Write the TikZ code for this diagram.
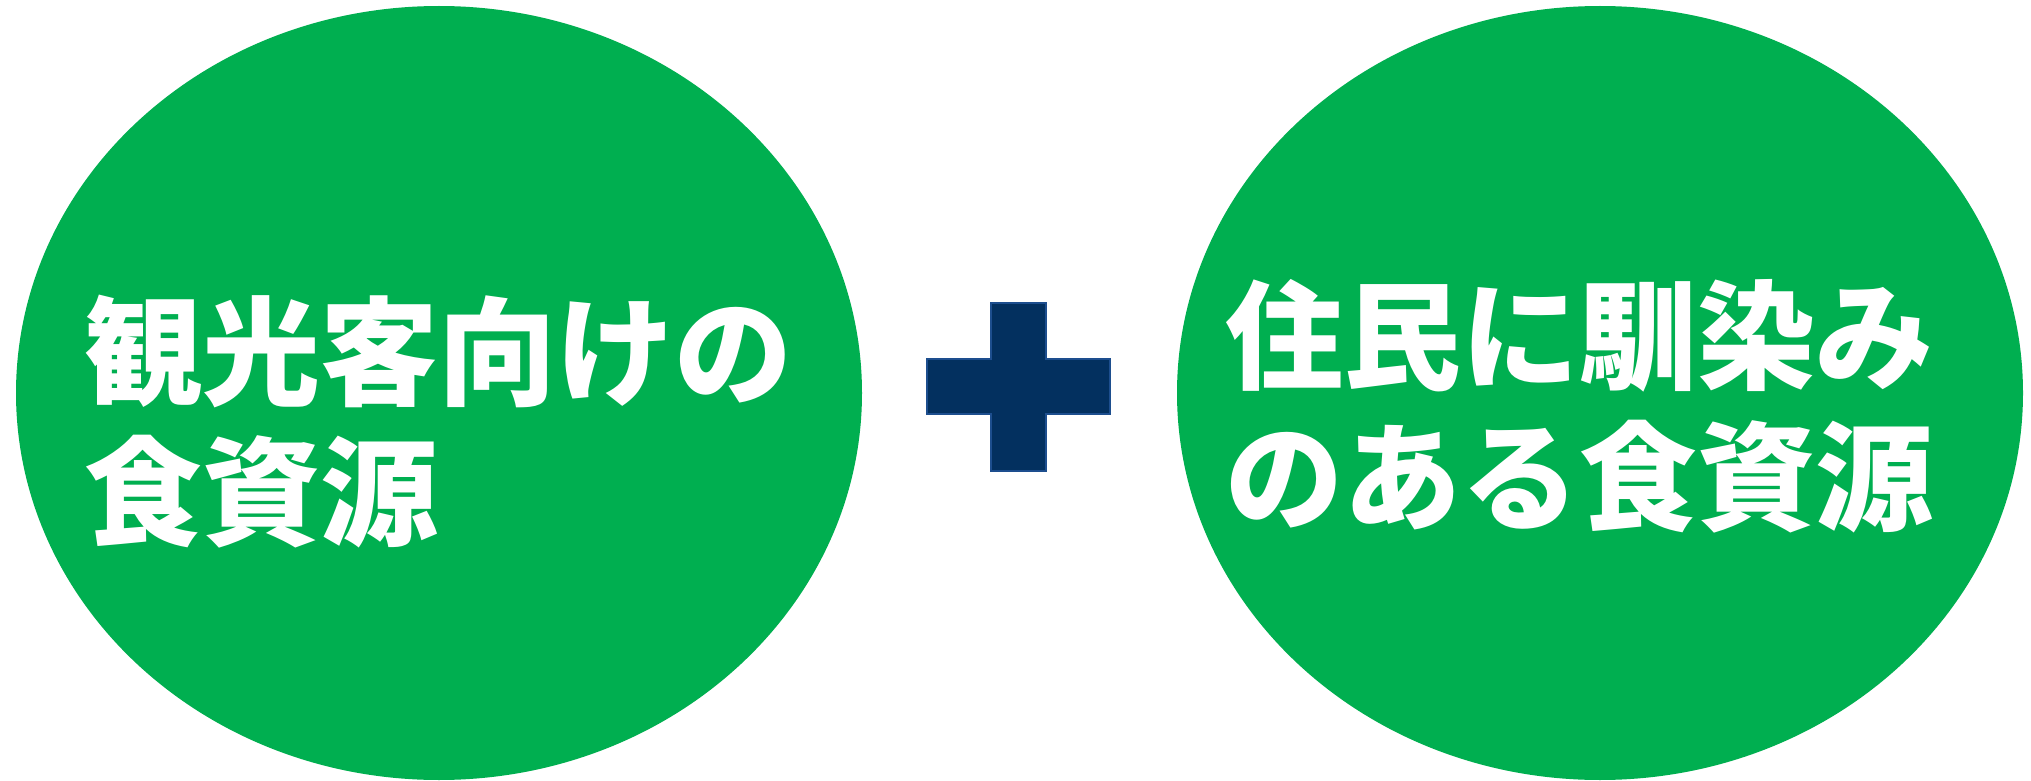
\documentclass[tikz,border=0pt]{standalone}
\usepackage{fontspec}
\newfontfamily\jp{Noto Sans CJK JP}
\usetikzlibrary{shapes.geometric}
\definecolor{bubblegreen}{HTML}{00AF50}
\definecolor{plusnavy}{HTML}{03305F}
\definecolor{plusedge}{HTML}{1D4E8E}
\tikzset{
  bubble/.style={ellipse, fill=bubblegreen, draw=none, inner sep=0pt, outer sep=0pt,
    minimum width=423pt, minimum height=387pt},
  jptext/.style={font=\jp\bfseries\fontsize{59pt}{70pt}\selectfont, text=white,
    inner sep=0pt, anchor=base west},
  plussign/.style={fill=plusnavy, draw=plusedge, line width=0.8pt}
}
\begin{document}
\begin{tikzpicture}[x=0.5pt, y=0.5pt]
\useasboundingbox (0,0) rectangle (2031,-781);
\fill[white] (0,0) rectangle (2031,-781);
% ellipses
\node[bubble] (leftres) at (439,-393) {};
\node[bubble] (rightres) at (1600,-393) {};
% left texts
\node[jptext] (l1) at (84,-396) {観光客向けの};
\node[jptext] (l2) at (84,-536) {食資源};
% right texts
\node[jptext] (r1) at (1225,-380) {住民に馴染み};
\node[jptext] (r2) at (1225,-521) {のある食資源};
% plus sign
\draw[plussign] (991,-303) -- (1046,-303) -- (1046,-359) -- (1110,-359) -- (1110,-414)
  -- (1046,-414) -- (1046,-471) -- (991,-471) -- (991,-414) -- (927,-414)
  -- (927,-359) -- (991,-359) -- cycle;
\end{tikzpicture}
\end{document}
